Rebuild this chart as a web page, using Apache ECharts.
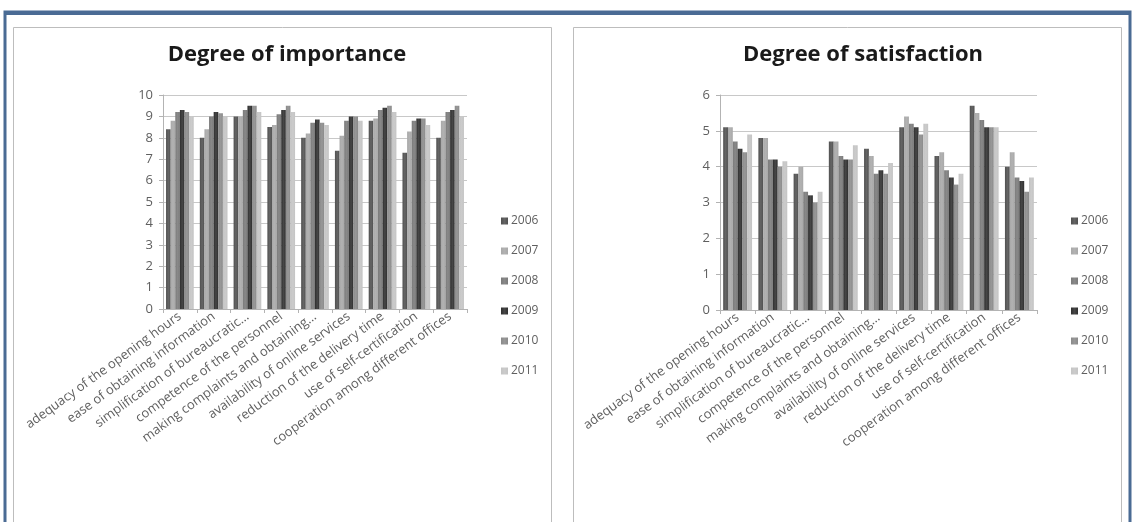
<!DOCTYPE html>
<html>
<head>
<meta charset="utf-8">
<script src="https://cdn.jsdelivr.net/npm/echarts@6/dist/echarts.min.js"></script>
<style>
  html, body { margin: 0; padding: 0; background: #ffffff; }
  #chart { width: 1134px; height: 522px; }
</style>
</head>
<body>
<div id="chart"></div>
<script>
// Survey items (x-axis categories)
const categories = [
  'adequacy of the opening hours',
  'ease of obtaining information',
  'simplification of bureaucratic…',
  'competence of the personnel',
  'making complaints and obtaining…',
  'availability of online services',
  'reduction of the delivery time',
  'use of self-certification',
  'cooperation among different offices'
];

const years = ['2006', '2007', '2008', '2009', '2010', '2011'];

// Degree of importance, one array per year (values per category)
const importance2006 = [8.4, 8.0, 9.0, 8.5, 8.0, 7.4, 8.8, 7.3, 8.0];
const importance2007 = [8.8, 8.4, 9.0, 8.6, 8.2, 8.1, 8.9, 8.3, 8.8];
const importance2008 = [9.2, 9.0, 9.3, 9.1, 8.7, 8.8, 9.3, 8.8, 9.2];
const importance2009 = [9.3, 9.2, 9.5, 9.3, 8.85, 9.0, 9.4, 8.9, 9.3];
const importance2010 = [9.2, 9.15, 9.5, 9.5, 8.7, 9.0, 9.5, 8.9, 9.5];
const importance2011 = [9.0, 9.0, 9.2, 9.2, 8.6, 8.8, 9.2, 8.6, 9.0];

// Degree of satisfaction, one array per year
const satisfaction2006 = [5.1, 4.8, 3.8, 4.7, 4.5, 5.1, 4.3, 5.7, 4.0];
const satisfaction2007 = [5.1, 4.8, 4.0, 4.7, 4.3, 5.4, 4.4, 5.5, 4.4];
const satisfaction2008 = [4.7, 4.2, 3.3, 4.3, 3.8, 5.2, 3.9, 5.3, 3.7];
const satisfaction2009 = [4.5, 4.2, 3.2, 4.2, 3.9, 5.1, 3.7, 5.1, 3.6];
const satisfaction2010 = [4.4, 4.0, 3.0, 4.2, 3.8, 4.9, 3.5, 5.1, 3.3];
const satisfaction2011 = [4.9, 4.15, 3.3, 4.6, 4.1, 5.2, 3.8, 5.1, 3.7];

const importanceTicks = [0, 1, 2, 3, 4, 5, 6, 7, 8, 9, 10];
const satisfactionTicks = [0, 1, 2, 3, 4, 5, 6];

const importanceData = [importance2006, importance2007, importance2008, importance2009, importance2010, importance2011];
const satisfactionData = [satisfaction2006, satisfaction2007, satisfaction2008, satisfaction2009, satisfaction2010, satisfaction2011];

// Grey shades per year
const yearColors = ['#505050', '#a8a8a8', '#7a7a7a', '#2e2e2e', '#8a8a8a', '#c4c4c4'];

function shade(c) {
  return new echarts.graphic.LinearGradient(0, 0, 1, 0, [
    { offset: 0, color: c },
    { offset: 0.5, color: echarts.color.lift(c, 0.12) },
    { offset: 1, color: c }
  ]);
}

const fontFamily = '"Open Sans", "Liberation Sans", sans-serif';
const labelGrey = '#5f5f5f';

function xAxisFor(gridIndex) {
  return {
    type: 'category',
    gridIndex: gridIndex,
    data: categories,
    axisLine: { lineStyle: { color: '#b3b3b3' } },
    axisTick: { show: true, length: 4, lineStyle: { color: '#b3b3b3' } },
    axisLabel: {
      rotate: 36,
      interval: 0,
      margin: 6,
      color: labelGrey,
      fontSize: 13,
      fontFamily: fontFamily
    }
  };
}

function yAxisFor(gridIndex, ticks) {
  return {
    type: 'value',
    gridIndex: gridIndex,
    min: ticks[0],
    max: ticks[ticks.length - 1],
    interval: 1,
    axisLine: { show: true, lineStyle: { color: '#b3b3b3' } },
    axisTick: { show: true, length: 4, lineStyle: { color: '#b3b3b3' } },
    splitLine: { lineStyle: { color: '#c8c8c8', width: 1 } },
    axisLabel: { color: labelGrey, fontSize: 13, fontFamily: fontFamily, margin: 10 }
  };
}

const series = [];
years.forEach((y, i) => {
  series.push({
    name: y,
    type: 'bar',
    xAxisIndex: 0,
    yAxisIndex: 0,
    data: importanceData[i],
    barGap: '0%',
    barCategoryGap: '18%',
    itemStyle: { color: shade(yearColors[i]) }
  });
});
years.forEach((y, i) => {
  series.push({
    name: y + ' ',
    type: 'bar',
    xAxisIndex: 1,
    yAxisIndex: 1,
    data: satisfactionData[i],
    barGap: '0%',
    barCategoryGap: '18%',
    itemStyle: { color: shade(yearColors[i]) }
  });
});

function legendFor(left, names) {
  return {
    orient: 'vertical',
    left: left,
    top: 210,
    itemWidth: 7,
    itemHeight: 7,
    itemGap: 18,
    icon: 'rect',
    data: names,
    formatter: n => n.trim(),
    textStyle: { color: labelGrey, fontSize: 12, fontFamily: fontFamily, padding: [0, 0, 0, -2] },
    selectedMode: false
  };
}

const frameBlue = '#4a6b94';

const option = {
  backgroundColor: '#ffffff',
  animation: false,
  title: [
    {
      text: 'Degree of importance',
      left: 282, top: 39, textAlign: 'center',
      textStyle: { fontSize: 22, fontWeight: 'bold', color: '#1a1a1a', fontFamily: fontFamily }
    },
    {
      text: 'Degree of satisfaction',
      left: 858, top: 39, textAlign: 'center',
      textStyle: { fontSize: 22, fontWeight: 'bold', color: '#1a1a1a', fontFamily: fontFamily }
    }
  ],
  legend: [
    legendFor(496, years),
    legendFor(1066, years.map(y => y + ' '))
  ],
  grid: [
    { left: 163, top: 95, width: 304, height: 214 },
    { left: 720, top: 95, width: 317, height: 215 }
  ],
  xAxis: [xAxisFor(0), xAxisFor(1)],
  yAxis: [yAxisFor(0, importanceTicks), yAxisFor(1, satisfactionTicks)],
  series: series,
  graphic: [
    // outer frame
    { type: 'rect', z: -10, shape: { x: 5, y: 12, width: 1125, height: 520 },
      style: { fill: null, stroke: frameBlue, lineWidth: 3 } },
    { type: 'rect', z: -9, shape: { x: 5, y: 11, width: 1125, height: 4 },
      style: { fill: frameBlue } },
    // chart panels
    { type: 'rect', z: -8, shape: { x: 13.5, y: 27.5, width: 538, height: 500 },
      style: { fill: '#ffffff', stroke: '#bdbdbd', lineWidth: 1 } },
    { type: 'rect', z: -8, shape: { x: 573.5, y: 27.5, width: 548, height: 500 },
      style: { fill: '#ffffff', stroke: '#bdbdbd', lineWidth: 1 } }
  ]
};

const chart = echarts.init(document.getElementById('chart'), null, { renderer: 'canvas' });
chart.setOption(option);
</script>
</body>
</html>
